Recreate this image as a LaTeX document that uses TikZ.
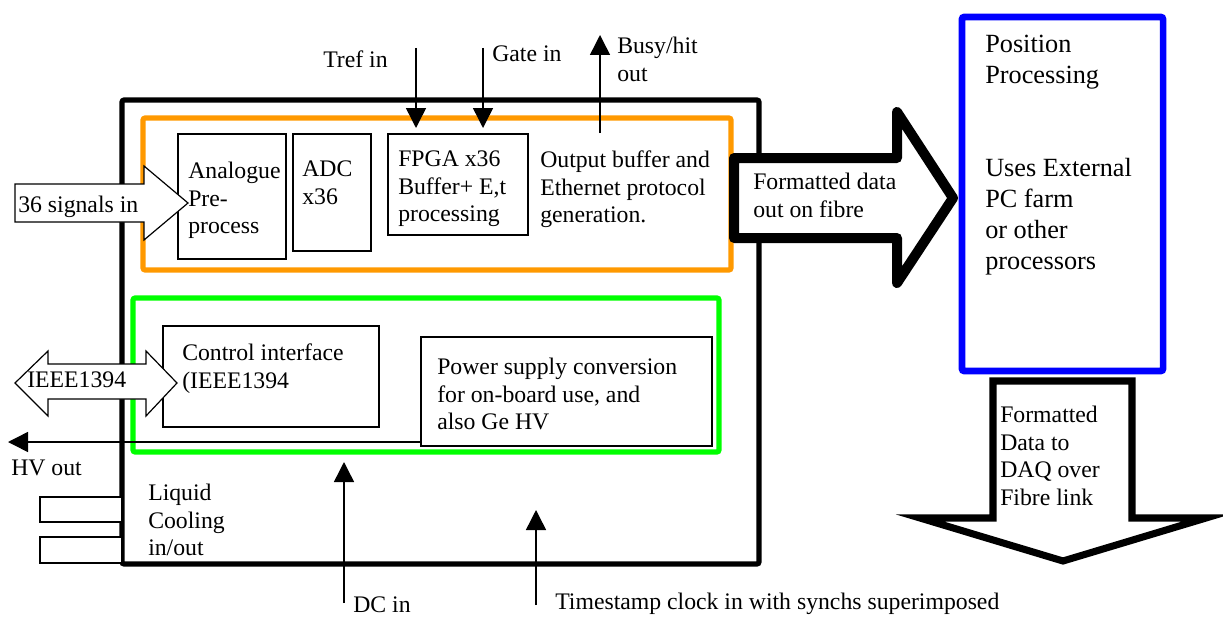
\documentclass[tikz,border=0pt]{standalone}
\usepackage{fontspec}
\setmainfont{LiberationSerif}[Extension=.ttf,UprightFont=*-Regular,BoldFont=*-Bold,ItalicFont=*-Italic,BoldItalicFont=*-BoldItalic]
\usetikzlibrary{arrows.meta,fit}
\definecolor{orangeline}{RGB}{255,153,0}
\definecolor{greenline}{RGB}{0,255,0}
\definecolor{blueline}{RGB}{0,0,255}
\begin{document}
\begin{tikzpicture}[x=0.75pt,y=-0.75pt,
  txt/.style={anchor=north west,inner sep=0pt,align=left,font=\rmfamily\fontsize{17.8pt}{20.6pt}\selectfont},
  bigtxt/.style={anchor=north west,inner sep=0pt,align=left,font=\rmfamily\fontsize{19.7pt}{23.25pt}\selectfont},
  smallbox/.style={draw,line width=0.9pt,fill=white,inner sep=0pt},
  thickframe/.style={draw,inner sep=0pt,rounded corners=1.5pt},
  blockarrow/.style={draw,fill=white,line width=0.9pt,line join=miter},
  arr/.style={line width=1.1pt,-{Triangle[length=15pt,width=15pt]}}]
\useasboundingbox (0,0) rectangle (1223,617);

% frames
\node[thickframe,fit={(122,100) (759,564)},line width=3.8pt] (board) {};
\node[thickframe,fit={(143,118) (731,270)},line width=3.8pt,draw=orangeline] (daq) {};
\node[thickframe,fit={(133,298) (719,452)},line width=3.8pt,draw=greenline] (ctrl) {};
\node[thickframe,fit={(962,17) (1163,371)},line width=4.9pt,draw=blueline] (pos) {};

% inner boxes
\node[smallbox,fit={(178,134) (286,259)}] (ana) {};
\node[smallbox,fit={(293,134) (371,251)}] (adc) {};
\node[smallbox,fit={(388,134) (528,235)}] (fpga) {};
\node[smallbox,fit={(163,326) (379,427)}] (ci) {};
\node[smallbox,fit={(421,337) (712,446)}] (psu) {};
\node[smallbox,fit={(40,497) (122,522)}] (cool1) {};
\node[smallbox,fit={(40,537) (122,563)}] (cool2) {};

% texts in boxes
\node[txt] (tana) at (188,162) {Analogue\\Pre-\\process};
\node[txt] (tadc) at (302,161) {ADC\\x36};
\node[txt] (tfpga) at (398,151) {FPGA x36\\Buffer+ E,t\\processing};
\node[txt] (tout) at (540,151) {Output buffer and\\Ethernet protocol\\generation.};
\node[txt] (tci) at (182,344) {Control interface\\(IEEE1394};
\node[txt] (tpsu) at (437,358) {Power supply conversion\\for on-board use, and\\also Ge HV};
\node[txt] (tcool) at (148,484) {Liquid\\Cooling\\in/out};
\node[bigtxt] (tpos) at (985,35) {Position\\Processing\\[46.5pt]Uses External\\PC farm\\or other\\processors};

% signal arrows
\coordinate (trefS) at (416,48);  \coordinate (trefE) at (416,128);
\coordinate (gateS) at (483,48);  \coordinate (gateE) at (483,128);
\coordinate (busyS) at (600,133); \coordinate (busyE) at (600,35);
\coordinate (hvS) at (421,442);   \coordinate (hvE) at (8,442);
\coordinate (dcS) at (344,603);   \coordinate (dcE) at (344,462);
\coordinate (tsS) at (536,605);   \coordinate (tsE) at (536,510);
\draw[arr] (trefS) -- (trefE);
\draw[arr] (gateS) -- (gateE);
\draw[arr] (busyS) -- (busyE);
\draw[arr] (hvS) -- (hvE);
\draw[arr] (dcS) -- (dcE);
\draw[arr] (tsS) -- (tsE);

\node[txt] (ttref) at (323,51) {Tref in};
\node[txt] (tgate) at (492,46) {Gate in};
\node[txt] (tbusy) at (617,37) {Busy/hit\\out};
\node[txt] (thv) at (11,460) {HV out};
\node[txt] (tdc) at (353,597) {DC in};
\node[txt] (tts) at (555,593) {Timestamp clock in with synchs superimposed};

% block arrows
\draw[blockarrow] (15,184) -- (144,184) -- (144,166) -- (188,203) -- (144,240) -- (144,222) -- (15,222) -- cycle;
\node[txt] (tsig) at (18,196) {36 signals in};

\draw[blockarrow] (15,383) -- (48,351) -- (48,364) -- (146,364) -- (146,351) -- (177,383) -- (146,416) -- (146,399) -- (48,399) -- (48,416) -- cycle;
\node[txt] (tieee) at (27,372) {IEEE1394};

\draw[draw,fill=white,line width=7.5pt,line join=round] (734,158) -- (897,158) -- (897,112) -- (953,198) -- (897,283) -- (897,238) -- (734,238) -- cycle;
\node[txt] (tfib) at (753,173) {Formatted data\\out on fibre};

\draw[draw,fill=white,line width=5.3pt,line join=miter] (993,381) -- (1132,381) -- (1132,518) -- (1206,518) -- (1063,561) -- (920,518) -- (993,518) -- cycle;
\node[txt] (tdaq) at (1000,406) {Formatted\\Data to\\DAQ over\\Fibre link};
\end{tikzpicture}
\end{document}
